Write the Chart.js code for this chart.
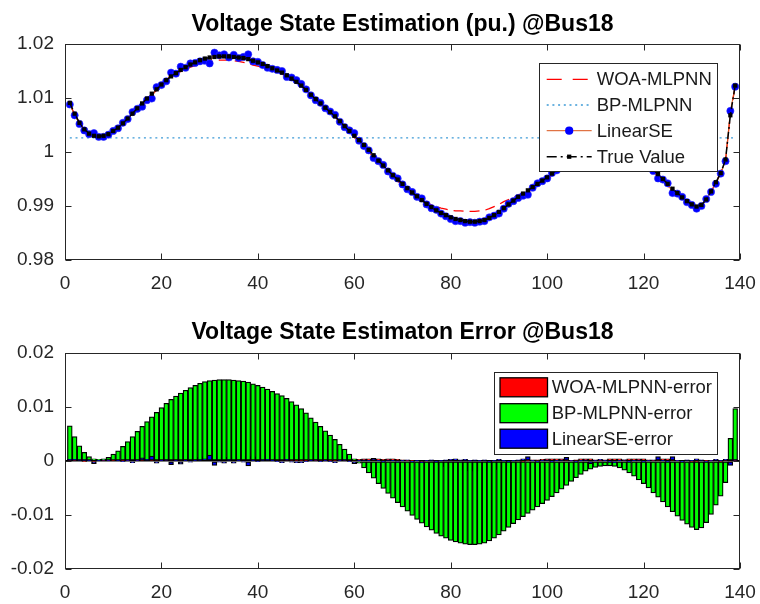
<!DOCTYPE html>
<html><head><meta charset="utf-8">
<script src="https://cdn.jsdelivr.net/npm/chart.js@4.4.1/dist/chart.umd.min.js"></script>
<style>
html,body{margin:0;padding:0;background:#fff;}
#wrap{position:relative;width:760px;height:604px;overflow:hidden;background:#fff}
#c1{position:absolute;left:0;top:0}
#c2{position:absolute;left:0;top:309px}
</style></head><body>
<div id="wrap"><canvas id="c1" width="760" height="300"></canvas><canvas id="c2" width="760" height="295"></canvas></div>
<script>
// ---------- data ----------
const xValues = [1,2,3,4,5,6,7,8,9,10,11,12,13,14,15,16,17,18,19,20,21,22,23,24,25,26,27,28,29,30,
31,32,33,34,35,36,37,38,39,40,41,42,43,44,45,46,47,48,49,50,51,52,53,54,55,56,57,58,59,60,
61,62,63,64,65,66,67,68,69,70,71,72,73,74,75,76,77,78,79,80,81,82,83,84,85,86,87,88,89,90,
91,92,93,94,95,96,97,98,99,100,101,102,103,104,105,106,107,108,109,110,111,112,113,114,115,116,117,118,119,120,
121,122,123,124,125,126,127,128,129,130,131,132,133,134,135,136,137,138,139];

const xTicks = [0,20,40,60,80,100,120,140];
const yTicksTop = [0.98,0.99,1,1.01,1.02];
const yTicksBottom = [-0.02,-0.01,0,0.01,0.02];

const titleTop = 'Voltage State Estimation (pu.) @Bus18';
const titleBottom = 'Voltage State Estimaton Error @Bus18';

const seriesTopNames = ['WOA-MLPNN','BP-MLPNN','LinearSE','True Value'];
const seriesBottomNames = ['WOA-MLPNN-error','BP-MLPNN-error','LinearSE-error'];

const trueValue = [1.0091,1.0071,1.0054,1.0042,1.0034,1.0030,1.0029,1.0030,1.0033,1.0039,
1.0045,1.0053,1.0062,1.0071,1.0081,1.0090,1.0099,1.0108,1.0116,1.0125,
1.0133,1.0140,1.0146,1.0152,1.0157,1.0162,1.0166,1.0170,1.0173,1.0175,
1.0176,1.0177,1.0177,1.0177,1.0176,1.0175,1.0174,1.0172,1.0169,1.0166,
1.0163,1.0159,1.0155,1.0151,1.0147,1.0142,1.0136,1.0130,1.0123,1.0115,
1.0106,1.0098,1.0090,1.0082,1.0074,1.0066,1.0057,1.0048,1.0039,1.0030,
1.0022,1.0013,1.0004,0.9994,0.9984,0.9975,0.9966,0.9957,0.9949,0.9941,
0.9933,0.9925,0.9918,0.9911,0.9904,0.9898,0.9892,0.9887,0.9883,0.9879,
0.9876,0.9874,0.9872,0.9871,0.9871,0.9872,0.9874,0.9878,0.9883,0.9889,
0.9896,0.9903,0.9910,0.9917,0.9923,0.9929,0.9935,0.9941,0.9947,0.9953,
0.9960,0.9967,0.9974,0.9981,0.9988,0.9995,1.0001,1.0007,1.0011,1.0014,
1.0016,1.0017,1.0017,1.0016,1.0013,1.0009,1.0004,0.9998,0.9991,0.9984,
0.9976,0.9967,0.9959,0.9950,0.9941,0.9932,0.9924,0.9916,0.9909,0.9903,
0.9899,0.9902,0.9912,0.9927,0.9944,0.9961,0.9986,1.0068,1.0123];

const woaValue = [1.0089,1.0070,1.0054,1.0043,1.0034,1.0031,1.0029,1.0029,1.0032,1.0038,
1.0045,1.0052,1.0061,1.0071,1.0080,1.0089,1.0099,1.0107,1.0114,1.0123,
1.0131,1.0137,1.0143,1.0149,1.0153,1.0157,1.0160,1.0163,1.0165,1.0167,
1.0168,1.0170,1.0170,1.0170,1.0169,1.0168,1.0166,1.0164,1.0161,1.0159,
1.0157,1.0154,1.0151,1.0148,1.0144,1.0140,1.0134,1.0129,1.0122,1.0114,
1.0106,1.0097,1.0088,1.0080,1.0073,1.0065,1.0055,1.0046,1.0036,1.0027,
1.0019,1.0009,1.0000,0.9991,0.9980,0.9972,0.9962,0.9953,0.9946,0.9939,
0.9932,0.9924,0.9918,0.9912,0.9906,0.9902,0.9899,0.9896,0.9894,0.9892,
0.9891,0.9891,0.9890,0.9890,0.9890,0.9891,0.9892,0.9895,0.9899,0.9903,
0.9908,0.9912,0.9916,0.9920,0.9924,0.9928,0.9933,0.9939,0.9944,0.9949,
0.9956,0.9963,0.9970,0.9979,0.9987,0.9993,0.9997,1.0003,1.0007,1.0012,
1.0015,1.0015,1.0013,1.0012,1.0009,1.0007,1.0000,0.9994,0.9987,0.9980,
0.9974,0.9966,0.9957,0.9946,0.9937,0.9930,0.9923,0.9916,0.9909,0.9904,
0.9900,0.9902,0.9911,0.9926,0.9944,0.9962,0.9984,1.0070,1.0122];

const bpValue = [1.0026,1.0026,1.0026,1.0026,1.0026,1.0026,1.0026,1.0026,1.0026,1.0026,
1.0026,1.0026,1.0026,1.0026,1.0026,1.0026,1.0026,1.0026,1.0026,1.0026,
1.0026,1.0026,1.0026,1.0026,1.0026,1.0026,1.0026,1.0026,1.0026,1.0026,
1.0026,1.0026,1.0026,1.0026,1.0026,1.0026,1.0026,1.0026,1.0026,1.0026,
1.0026,1.0026,1.0026,1.0026,1.0026,1.0026,1.0026,1.0026,1.0026,1.0026,
1.0026,1.0026,1.0026,1.0026,1.0026,1.0026,1.0026,1.0026,1.0026,1.0026,
1.0026,1.0026,1.0026,1.0026,1.0026,1.0026,1.0026,1.0026,1.0026,1.0026,
1.0026,1.0026,1.0026,1.0026,1.0026,1.0026,1.0026,1.0026,1.0026,1.0026,
1.0026,1.0026,1.0026,1.0026,1.0026,1.0026,1.0026,1.0026,1.0026,1.0026,
1.0026,1.0026,1.0026,1.0026,1.0026,1.0026,1.0026,1.0026,1.0026,1.0026,
1.0026,1.0026,1.0026,1.0026,1.0026,1.0026,1.0026,1.0026,1.0026,1.0026,
1.0026,1.0026,1.0026,1.0026,1.0026,1.0026,1.0026,1.0026,1.0026,1.0026,
1.0026,1.0026,1.0026,1.0026,1.0026,1.0026,1.0026,1.0026,1.0026,1.0026,
1.0026,1.0026,1.0026,1.0026,1.0026,1.0026,1.0026,1.0026,1.0026];

const linearSEValue = [1.0088,1.0068,1.0052,1.0040,1.0033,1.0035,1.0028,1.0028,1.0032,1.0039,
1.0044,1.0054,1.0061,1.0074,1.0080,1.0084,1.0096,1.0099,1.0120,1.0124,
1.0131,1.0147,1.0145,1.0158,1.0156,1.0164,1.0165,1.0168,1.0169,1.0164,
1.0184,1.0179,1.0181,1.0175,1.0180,1.0174,1.0176,1.0181,1.0168,1.0167,
1.0161,1.0156,1.0154,1.0152,1.0150,1.0139,1.0138,1.0133,1.0126,1.0116,
1.0105,1.0096,1.0091,1.0081,1.0075,1.0069,1.0056,1.0046,1.0040,1.0035,
1.0021,1.0011,1.0003,0.9989,0.9983,0.9976,0.9964,0.9956,0.9951,0.9940,
0.9931,0.9926,0.9917,0.9914,0.9903,0.9896,0.9893,0.9886,0.9881,0.9876,
0.9872,0.9872,0.9869,0.9870,0.9869,0.9871,0.9872,0.9879,0.9882,0.9886,
0.9895,0.9904,0.9909,0.9915,0.9919,0.9921,0.9934,0.9942,0.9946,0.9951,
0.9961,0.9966,0.9972,0.9974,0.9987,0.9996,1.0000,1.0005,1.0016,1.0013,
1.0013,1.0016,1.0018,1.0019,1.0012,1.0007,1.0005,0.9997,0.9989,0.9985,
0.9975,0.9965,0.9951,0.9949,0.9942,0.9924,0.9923,0.9917,0.9907,0.9902,
0.9895,0.9900,0.9913,0.9926,0.9941,0.9960,0.9983,1.0076,1.0121];

const woaError = [0.0002,0.0001,0.0000,-0.0001,0.0000,-0.0001,0.0000,0.0001,0.0001,0.0001,
0.0000,0.0001,0.0001,0.0000,0.0001,0.0001,0.0000,0.0001,0.0002,0.0002,
0.0002,0.0003,0.0003,0.0003,0.0004,0.0005,0.0006,0.0007,0.0008,0.0008,
0.0008,0.0007,0.0007,0.0007,0.0007,0.0007,0.0008,0.0008,0.0008,0.0007,
0.0006,0.0005,0.0004,0.0003,0.0003,0.0002,0.0002,0.0001,0.0001,0.0001,
0.0000,0.0001,0.0002,0.0002,0.0001,0.0001,0.0002,0.0002,0.0003,0.0003,
0.0003,0.0004,0.0004,0.0003,0.0004,0.0003,0.0004,0.0004,0.0003,0.0002,
0.0001,0.0001,0.0000,-0.0001,-0.0002,-0.0004,-0.0007,-0.0009,-0.0011,-0.0013,
-0.0015,-0.0017,-0.0018,-0.0019,-0.0019,-0.0019,-0.0018,-0.0017,-0.0016,-0.0014,
-0.0012,-0.0009,-0.0006,-0.0003,-0.0001,0.0001,0.0002,0.0002,0.0003,0.0004,
0.0004,0.0004,0.0004,0.0002,0.0001,0.0002,0.0004,0.0004,0.0004,0.0002,
0.0001,0.0002,0.0004,0.0004,0.0004,0.0002,0.0004,0.0004,0.0004,0.0004,
0.0002,0.0001,0.0002,0.0004,0.0004,0.0002,0.0001,0.0000,0.0000,-0.0001,
-0.0001,0.0000,0.0001,0.0001,0.0000,-0.0001,0.0002,-0.0002,0.0001];

const bpError = [0.0065,0.0045,0.0028,0.0016,0.0008,0.0004,0.0003,0.0004,0.0007,0.0013,
0.0019,0.0027,0.0036,0.0045,0.0055,0.0064,0.0073,0.0082,0.0090,0.0099,
0.0107,0.0114,0.0120,0.0126,0.0131,0.0136,0.0140,0.0144,0.0147,0.0149,
0.0150,0.0151,0.0151,0.0151,0.0150,0.0149,0.0148,0.0146,0.0143,0.0140,
0.0137,0.0133,0.0129,0.0125,0.0121,0.0116,0.0110,0.0104,0.0097,0.0089,
0.0080,0.0072,0.0064,0.0056,0.0048,0.0040,0.0031,0.0022,0.0013,0.0004,
-0.0004,-0.0013,-0.0022,-0.0032,-0.0042,-0.0051,-0.0060,-0.0069,-0.0077,-0.0085,
-0.0093,-0.0101,-0.0108,-0.0115,-0.0122,-0.0128,-0.0134,-0.0139,-0.0143,-0.0147,
-0.0150,-0.0152,-0.0154,-0.0155,-0.0155,-0.0154,-0.0152,-0.0148,-0.0143,-0.0137,
-0.0130,-0.0123,-0.0116,-0.0109,-0.0103,-0.0097,-0.0091,-0.0085,-0.0079,-0.0073,
-0.0066,-0.0059,-0.0052,-0.0045,-0.0038,-0.0031,-0.0025,-0.0019,-0.0015,-0.0012,
-0.0010,-0.0009,-0.0009,-0.0010,-0.0013,-0.0017,-0.0022,-0.0028,-0.0035,-0.0042,
-0.0050,-0.0059,-0.0067,-0.0076,-0.0085,-0.0094,-0.0102,-0.0110,-0.0117,-0.0123,
-0.0127,-0.0124,-0.0114,-0.0099,-0.0082,-0.0065,-0.0040,0.0042,0.0097];

const linearSEError = [0.0003,0.0003,0.0002,0.0002,0.0001,-0.0005,0.0001,0.0002,0.0001,0.0000,
0.0001,-0.0001,0.0001,-0.0003,0.0001,0.0006,0.0003,0.0009,-0.0004,0.0001,
0.0002,-0.0007,0.0001,-0.0006,0.0001,-0.0002,0.0001,0.0002,0.0004,0.0011,
-0.0008,-0.0002,-0.0004,0.0002,-0.0004,0.0001,-0.0002,-0.0009,0.0001,-0.0001,
0.0002,0.0003,0.0001,-0.0001,-0.0003,0.0003,-0.0002,-0.0003,-0.0003,-0.0001,
0.0001,0.0002,-0.0001,0.0001,-0.0001,-0.0003,0.0001,0.0002,-0.0001,-0.0005,
0.0001,0.0002,0.0001,0.0005,0.0001,-0.0001,0.0002,0.0001,-0.0002,0.0001,
0.0002,-0.0001,0.0001,-0.0003,0.0001,0.0002,-0.0001,0.0001,0.0002,0.0003,
0.0004,0.0002,0.0003,0.0001,0.0002,0.0001,0.0002,-0.0001,0.0001,0.0003,
0.0001,-0.0001,0.0001,0.0002,0.0004,0.0008,0.0001,-0.0001,0.0001,0.0002,
-0.0001,0.0001,0.0002,0.0007,0.0001,-0.0001,0.0001,0.0002,-0.0005,0.0001,
0.0003,0.0001,-0.0001,-0.0003,0.0001,0.0002,-0.0001,0.0001,0.0002,-0.0001,
0.0001,0.0002,0.0008,0.0001,-0.0001,0.0008,0.0001,-0.0001,0.0002,0.0001,
0.0004,0.0002,-0.0001,0.0001,0.0003,0.0001,0.0003,-0.0008,0.0002];

// ---------- helpers ----------
const FONT = '"Liberation Sans", Arial, Helvetica, sans-serif';
const AX = '#262626';
const pts = arr => xValues.map((x, i) => ({x: x, y: arr[i]}));

function axesConfig(yTicks, xHeight, zeroLine) {
  return {
    x: {
      type: 'linear', min: xTicks[0], max: xTicks[xTicks.length - 1], offset: false,
      grid: {display: false, drawTicks: false}, border: {display: false},
      afterBuildTicks: s => { s.ticks = xTicks.map(v => ({value: v})); },
      ticks: {padding: 12, color: AX, font: {family: FONT, size: 19}, autoSkip: false, maxRotation: 0,
              callback: v => String(v)},
      afterFit: s => { s.height = xHeight; s.paddingLeft = 0; s.paddingRight = 0; }
    },
    y: {
      type: 'linear', min: yTicks[0], max: yTicks[yTicks.length - 1],
      grid: zeroLine ? {display: true, drawTicks: false, lineWidth: 1.5,
                        color: c => (c.tick && c.tick.value === 0) ? '#000' : 'rgba(0,0,0,0)'}
                     : {display: false, drawTicks: false},
      border: {display: false},
      afterBuildTicks: s => { s.ticks = yTicks.map(v => ({value: v})); },
      ticks: {padding: 11, color: AX, font: {family: FONT, size: 19}, autoSkip: false,
              callback: v => String(v)},
      afterFit: s => { s.width = 65; s.paddingTop = 0; s.paddingBottom = 0; }
    }
  };
}

const boxTicks = {
  id: 'boxTicks',
  afterDatasetsDraw(chart) {
    const {ctx, chartArea: a, scales: {x, y}} = chart;
    ctx.save();
    ctx.strokeStyle = AX; ctx.lineWidth = 1; ctx.setLineDash([]);
    const L = Math.round(a.left) + 0.5, R = Math.round(a.right) - 0.5,
          T = Math.round(a.top) + 0.5, B = Math.round(a.bottom) - 0.5;
    ctx.strokeRect(L, T, R - L, B - T);
    ctx.beginPath();
    x.ticks.forEach(t => {
      const px = Math.round(x.getPixelForValue(t.value)) + 0.5;
      ctx.moveTo(px, T); ctx.lineTo(px, T + 6);
      ctx.moveTo(px, B); ctx.lineTo(px, B - 6);
    });
    y.ticks.forEach(t => {
      const py = Math.round(y.getPixelForValue(t.value)) + 0.5;
      ctx.moveTo(L, py); ctx.lineTo(L + 6, py);
      ctx.moveTo(R, py); ctx.lineTo(R - 6, py);
    });
    ctx.stroke();
    ctx.restore();
  }
};

function titlePlugin(text, offset) {
  return {
    id: 'mlTitle',
    afterDraw(chart) {
      const {ctx, chartArea: a} = chart;
      ctx.save();
      ctx.font = 'bold 23px ' + FONT;
      ctx.fillStyle = '#000';
      ctx.textAlign = 'center';
      ctx.textBaseline = 'alphabetic';
      ctx.fillText(text, (a.left + a.right) / 2, a.top - offset);
      ctx.restore();
    }
  };
}

function legendPlugin(cfg) {
  return {
    id: 'mlLegend',
    afterDraw(chart) {
      const ctx = chart.ctx;
      const [x0, y0, x1, y1] = cfg.box;
      ctx.save();
      ctx.fillStyle = '#fff';
      ctx.fillRect(x0, y0, x1 - x0, y1 - y0);
      ctx.strokeStyle = AX; ctx.lineWidth = 1; ctx.setLineDash([]);
      ctx.strokeRect(x0 + 0.5, y0 + 0.5, x1 - x0 - 1, y1 - y0 - 1);
      chart.data.datasets.forEach((ds, i) => {
        const cy = cfg.rows[i];
        ctx.save();
        if (cfg.kind === 'line') {
          ctx.strokeStyle = ds.borderColor;
          ctx.lineWidth = ds.borderWidth || 1;
          ctx.setLineDash(ds.legendDash || []);
          ctx.beginPath(); ctx.moveTo(cfg.sx0, cy); ctx.lineTo(cfg.sx1, cy); ctx.stroke();
          ctx.setLineDash([]);
          if (ds.pointRadius > 0) {
            const mx = (cfg.sx0 + cfg.sx1) / 2;
            ctx.fillStyle = ds.pointBackgroundColor;
            if (ds.pointStyle === 'rect') {
              const s = ds.pointRadius * 1.414;
              ctx.fillRect(mx - s / 2, cy - s / 2, s, s);
            } else {
              ctx.beginPath(); ctx.arc(mx, cy, ds.pointRadius + 0.5, 0, Math.PI * 2); ctx.fill();
            }
          }
        } else {
          ctx.fillStyle = ds.backgroundColor;
          ctx.fillRect(cfg.sx0, cy - cfg.rh / 2, cfg.sx1 - cfg.sx0, cfg.rh);
          ctx.strokeStyle = '#000'; ctx.lineWidth = 1.3;
          ctx.strokeRect(cfg.sx0, cy - cfg.rh / 2, cfg.sx1 - cfg.sx0, cfg.rh);
        }
        ctx.restore();
        ctx.font = '18.5px ' + FONT;
        ctx.fillStyle = '#1a1a1a';
        ctx.textAlign = 'left';
        ctx.textBaseline = 'middle';
        ctx.fillText(ds.label, cfg.tx, cy + 1);
      });
      ctx.restore();
    }
  };
}

// ---------- top chart ----------
new Chart(document.getElementById('c1'), {
  type: 'line',
  data: {
    datasets: [
      {label: seriesTopNames[0], data: pts(woaValue), borderColor: '#FF0000', borderWidth: 1.3,
       borderDash: [10, 6], legendDash: [15, 11], pointRadius: 0, tension: 0, order: 4},
      {label: seriesTopNames[1], data: pts(bpValue), borderColor: '#3d9ad6', borderWidth: 1.3,
       borderDash: [2, 3.7], legendDash: [2, 3.7], pointRadius: 0, tension: 0, order: 3},
      {label: seriesTopNames[2], data: pts(linearSEValue), borderColor: '#D95319', borderWidth: 1,
       pointRadius: 3.6, pointBackgroundColor: '#0000FF', pointBorderColor: '#2a2aff', pointBorderWidth: 0.6,
       tension: 0, order: 2},
      {label: seriesTopNames[3], data: pts(trueValue), borderColor: '#000000', borderWidth: 1.5,
       borderDash: [7, 3, 2, 3], legendDash: [10, 4, 2, 4], pointRadius: 3, pointStyle: 'rect',
       pointBackgroundColor: '#000000', pointBorderColor: '#000000', pointBorderWidth: 0,
       tension: 0, order: 1}
    ]
  },
  options: {
    responsive: false, animation: false, devicePixelRatio: 1,
    layout: {padding: {left: 0, right: 20, top: 44, bottom: 0}},
    plugins: {legend: {display: false}, tooltip: {enabled: false}, title: {display: false}},
    scales: axesConfig(yTicksTop, 40, false)
  },
  plugins: [boxTicks, titlePlugin(titleTop, 13.5),
            legendPlugin({kind: 'line', box: [539, 63, 718, 172], rows: [79.3, 105, 130.7, 156.7],
                          sx0: 546.7, sx1: 591.7, tx: 596.7})]
});

// ---------- bottom chart ----------
const barStyle = {borderColor: '#000', borderWidth: 1.25, borderSkipped: false, grouped: false,
                  barPercentage: 1, categoryPercentage: 1};
new Chart(document.getElementById('c2'), {
  type: 'bar',
  data: {
    datasets: [
      Object.assign({label: seriesBottomNames[0], data: pts(woaError), backgroundColor: '#FF0000', order: 2}, barStyle),
      Object.assign({label: seriesBottomNames[1], data: pts(bpError), backgroundColor: '#00FF00', order: 1}, barStyle),
      Object.assign({label: seriesBottomNames[2], data: pts(linearSEError), backgroundColor: '#0000FF', order: 0}, barStyle)
    ]
  },
  options: {
    responsive: false, animation: false, devicePixelRatio: 1,
    layout: {padding: {left: 0, right: 20, top: 44, bottom: 0}},
    plugins: {legend: {display: false}, tooltip: {enabled: false}, title: {display: false}},
    scales: axesConfig(yTicksBottom, 35, true)
  },
  plugins: [boxTicks, titlePlugin(titleBottom, 14.5),
            legendPlugin({kind: 'bar', box: [494, 63, 718, 146], rows: [78.3, 104.2, 129.7],
                          sx0: 500, sx1: 547.5, rh: 19, tx: 551.7})]
});
</script>
</body></html>
